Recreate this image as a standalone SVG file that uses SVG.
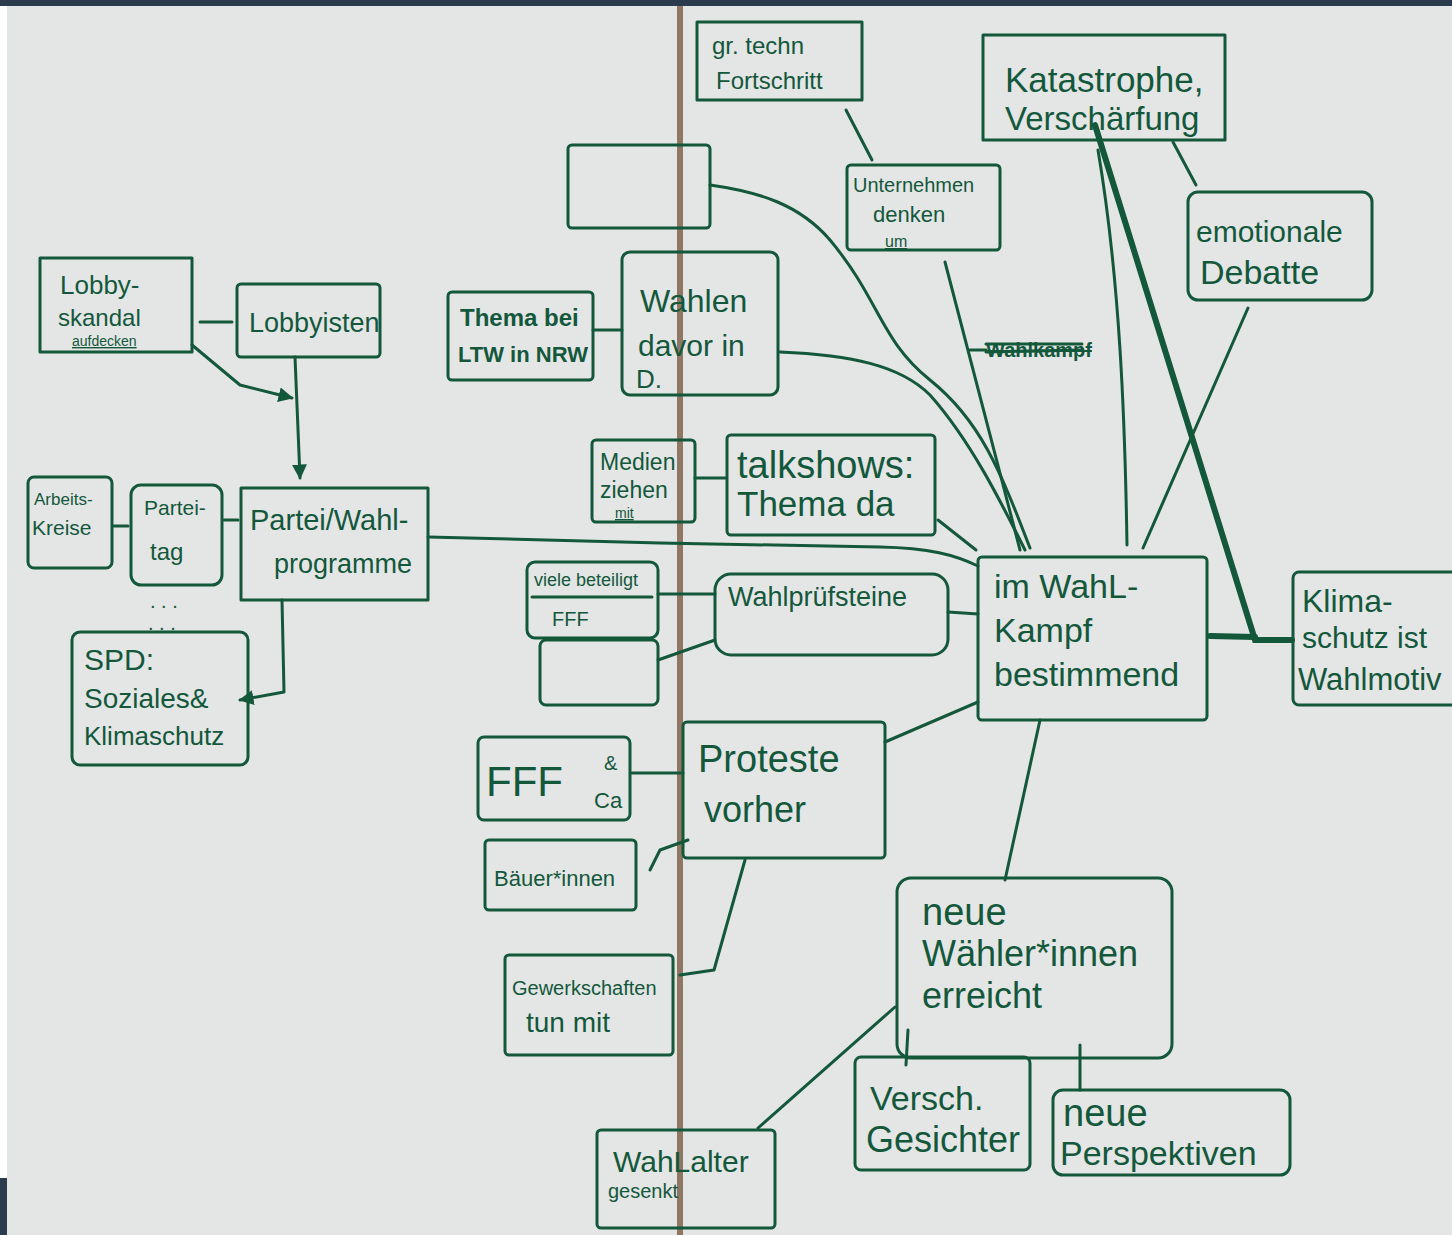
<svg xmlns="http://www.w3.org/2000/svg" width="1452" height="1235" viewBox="0 0 1452 1235">
<defs>
<style>
.b{fill:none;stroke:#13583b;stroke-width:3;stroke-linejoin:round}
.c{fill:none;stroke:#13583b;stroke-width:3;stroke-linecap:round;stroke-linejoin:round}
.ct{fill:none;stroke:#13583b;stroke-width:6;stroke-linecap:round}
text{font-family:"Liberation Sans","DejaVu Sans",sans-serif;fill:#13583b}
</style>
<marker id="ah" viewBox="0 0 10 10" refX="9" refY="5" markerWidth="5" markerHeight="5" orient="auto" markerUnits="strokeWidth">
<path d="M0,0 L10,5 L0,10 z" fill="#13583b"/>
</marker>
</defs>
<rect x="0" y="0" width="1452" height="1235" fill="#e4e5e5"/>
<rect x="0" y="0" width="1452" height="6" fill="#2b3b4e"/>
<rect x="0" y="6" width="7" height="1172" fill="#ffffff"/>
<rect x="0" y="1178" width="7" height="57" fill="#2b3b4e"/>
<line x1="680" y1="6" x2="680" y2="1235" stroke="#8f7763" stroke-width="6"/>

<g id="connectors">
<path class="c" d="M200,322 L232,322"/>
<path class="c" d="M192,345 L240,385 L292,398" marker-end="url(#ah)"/>
<path class="c" d="M295,357 L300,478" marker-end="url(#ah)"/>
<path class="c" d="M114,526 L128,526"/>
<path class="c" d="M224,520 L238,520"/>
<path class="c" d="M282,600 L284,692 L240,700" marker-end="url(#ah)"/>
<path class="c" d="M428,537 L660,543 L880,547 C930,548 955,555 978,566"/>
<path class="c" d="M593,330 L622,330"/>
<path class="c" d="M710,185 C760,192 800,205 830,240 C880,300 880,340 930,380 C980,420 1000,470 1030,548"/>
<path class="c" d="M780,352 C850,355 900,365 930,395 C970,440 1000,500 1025,550"/>
<path class="c" d="M846,110 L872,160"/>
<path class="c" d="M945,262 L1020,550"/>
<path class="ct" d="M1095,125 L1255,640 L1292,640"/>
<path class="ct" d="M1210,636 L1255,637"/>
<path class="c" d="M1098,150 C1120,280 1125,420 1127,545"/>
<path class="c" d="M1173,142 L1196,185"/>
<path class="c" d="M1248,308 L1143,548"/>
<path class="c" d="M938,520 L976,550"/>
<path class="c" d="M695,478 L725,478"/>
<path class="c" d="M658,594 L715,594"/>
<path class="c" d="M658,660 L715,640"/>
<path class="c" d="M948,612 L978,614"/>
<path class="c" d="M632,773 L683,773"/>
<path class="c" d="M650,870 L660,850 L688,840"/>
<path class="c" d="M680,975 L714,970 L745,860"/>
<path class="c" d="M885,742 L978,702"/>
<path class="c" d="M1040,720 L1005,880"/>
<path class="c" d="M895,1007 L758,1128"/>
<path class="c" d="M908,1030 L906,1065"/>
<path class="c" d="M1080,1045 L1080,1090"/>
<path class="c" d="M970,350 L986,350"/>
<text x="986" y="357" font-size="20" font-weight="bold" text-decoration="line-through">Wahlkampf</text>
<path class="c" d="M986,344 L1082,344 M986,352 L1082,350"/>
</g>

<g id="n-fortschritt"><rect class="b" x="697" y="22" width="165" height="78"/><text x="712" y="54" font-size="24">gr. techn</text><text x="716" y="89" font-size="24">Fortschritt</text></g>
<g id="n-leer1"><rect class="b" x="568" y="145" width="142" height="83" rx="4"/></g>
<g id="n-unternehmen"><rect class="b" x="847" y="165" width="153" height="85" rx="4"/><text x="853" y="192" font-size="20">Unternehmen</text><text x="873" y="222" font-size="22">denken</text><text x="885" y="247" font-size="16" text-decoration="underline">um</text></g>
<g id="n-katastrophe"><rect class="b" x="983" y="35" width="242" height="105"/><text x="1005" y="92" font-size="35">Katastrophe,</text><text x="1005" y="130" font-size="33">Verschärfung</text></g>
<g id="n-debatte"><rect class="b" x="1188" y="192" width="184" height="108" rx="10"/><text x="1196" y="242" font-size="30">emotionale</text><text x="1200" y="284" font-size="34">Debatte</text></g>
<g id="n-lobbyskandal"><rect class="b" x="40" y="258" width="152" height="94"/><text x="60" y="294" font-size="26">Lobby-</text><text x="58" y="326" font-size="24">skandal</text><text x="72" y="346" font-size="14" text-decoration="underline">aufdecken</text></g>
<g id="n-lobbyisten"><rect class="b" x="237" y="284" width="143" height="73" rx="4"/><text x="249" y="332" font-size="27">Lobbyisten</text></g>
<g id="n-ltw"><rect class="b" x="448" y="292" width="145" height="88" rx="4"/><text x="460" y="326" font-size="24" font-weight="bold">Thema bei</text><text x="458" y="362" font-size="22" font-weight="bold">LTW in NRW</text></g>
<g id="n-wahlendavor"><rect class="b" x="622" y="252" width="156" height="143" rx="8"/><text x="640" y="312" font-size="32">Wahlen</text><text x="638" y="356" font-size="30">davor in</text><text x="636" y="388" font-size="26">D.</text></g>
<g id="n-medien"><rect class="b" x="592" y="440" width="103" height="82" rx="4"/><text x="600" y="470" font-size="23">Medien</text><text x="600" y="498" font-size="23">ziehen</text><text x="615" y="518" font-size="14" text-decoration="underline">mit</text></g>
<g id="n-talkshows"><rect class="b" x="727" y="435" width="208" height="100" rx="4"/><text x="737" y="478" font-size="38">talkshows:</text><text x="737" y="516" font-size="35">Thema da</text></g>
<g id="n-arbeitskreise"><rect class="b" x="28" y="477" width="84" height="91" rx="6"/><text x="34" y="505" font-size="17">Arbeits-</text><text x="32" y="535" font-size="21">Kreise</text></g>
<g id="n-parteitag"><rect class="b" x="131" y="485" width="91" height="100" rx="10"/><text x="144" y="515" font-size="21">Partei-</text><text x="150" y="560" font-size="24">tag</text></g>
<g id="n-programme"><rect class="b" x="241" y="488" width="187" height="112"/><text x="250" y="530" font-size="29">Partei/Wahl-</text><text x="274" y="573" font-size="27">programme</text></g>
<g id="n-dots"><text x="150" y="608" font-size="20">. . .</text><text x="148" y="630" font-size="20">. .  .</text></g>
<g id="n-spd"><rect class="b" x="72" y="632" width="176" height="133" rx="8"/><text x="84" y="670" font-size="30">SPD:</text><text x="84" y="708" font-size="28">Soziales&amp;</text><text x="84" y="745" font-size="26">Klimaschutz</text></g>
<g id="n-beteiligt"><rect class="b" x="527" y="562" width="131" height="76" rx="8"/><text x="534" y="586" font-size="18">viele beteiligt</text><line class="c" x1="532" y1="597" x2="652" y2="597"/><text x="552" y="626" font-size="20">FFF</text></g>
<g id="n-leer2"><rect class="b" x="540" y="640" width="118" height="65" rx="6"/></g>
<g id="n-pruefsteine"><rect class="b" x="715" y="574" width="233" height="81" rx="16"/><text x="728" y="606" font-size="27">Wahlprüfsteine</text></g>
<g id="n-wahlkampf"><rect class="b" x="978" y="557" width="229" height="163" rx="4"/><text x="994" y="598" font-size="34">im WahL-</text><text x="994" y="642" font-size="34">Kampf</text><text x="994" y="686" font-size="34">bestimmend</text></g>
<g id="n-klimaschutz"><rect class="b" x="1293" y="572" width="170" height="133" rx="6"/><text x="1302" y="612" font-size="32">Klima-</text><text x="1302" y="648" font-size="30">schutz ist</text><text x="1298" y="690" font-size="31">Wahlmotiv</text></g>
<g id="n-fff"><rect class="b" x="478" y="737" width="152" height="83" rx="6"/><text x="486" y="796" font-size="42">FFF</text><text x="604" y="770" font-size="20">&amp;</text><text x="594" y="808" font-size="22">Ca</text></g>
<g id="n-proteste"><rect class="b" x="683" y="722" width="202" height="136" rx="4"/><text x="698" y="772" font-size="38">Proteste</text><text x="704" y="822" font-size="36">vorher</text></g>
<g id="n-baeuer"><rect class="b" x="485" y="840" width="151" height="70" rx="4"/><text x="494" y="886" font-size="22">Bäuer*innen</text></g>
<g id="n-gewerkschaften"><rect class="b" x="505" y="955" width="168" height="100" rx="4"/><text x="512" y="995" font-size="20">Gewerkschaften</text><text x="526" y="1032" font-size="28">tun mit</text></g>
<g id="n-neuewaehler"><rect class="b" x="897" y="878" width="275" height="180" rx="14"/><text x="922" y="925" font-size="38">neue</text><text x="922" y="966" font-size="36">Wähler*innen</text><text x="922" y="1008" font-size="36">erreicht</text></g>
<g id="n-wahlalter"><rect class="b" x="597" y="1130" width="178" height="98" rx="4"/><text x="613" y="1172" font-size="30">WahLalter</text><text x="608" y="1198" font-size="20">gesenkt</text></g>
<g id="n-gesichter"><rect class="b" x="855" y="1057" width="175" height="113" rx="6"/><text x="870" y="1110" font-size="34">Versch.</text><text x="866" y="1152" font-size="36">Gesichter</text></g>
<g id="n-perspektiven"><rect class="b" x="1053" y="1090" width="237" height="85" rx="10"/><text x="1063" y="1126" font-size="38">neue</text><text x="1060" y="1165" font-size="34">Perspektiven</text></g>
</svg>
